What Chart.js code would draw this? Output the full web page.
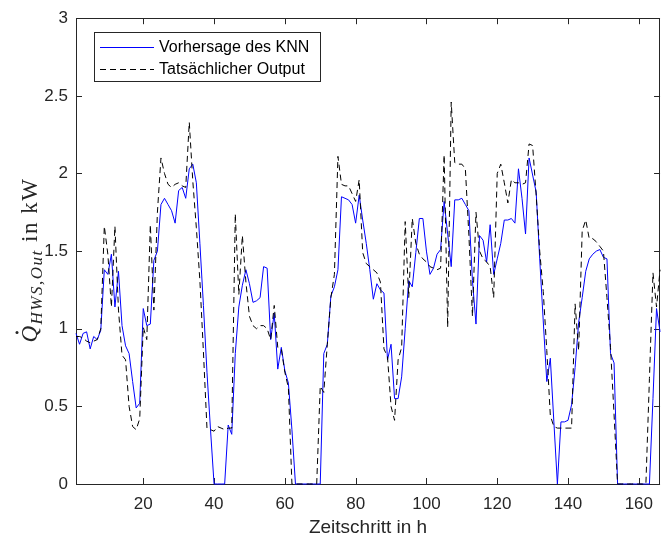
<!DOCTYPE html>
<html>
<head>
<meta charset="utf-8">
<script src="https://cdn.jsdelivr.net/npm/chart.js@4.4.1/dist/chart.umd.min.js"></script>
<style>
  html, body { margin: 0; padding: 0; background: #fff; }
  #chart { display: block; }
</style>
</head>
<body>
<canvas id="chart" width="663" height="541"></canvas>
<script>
// time steps 1..166 (hours)
const steps = Array.from({ length: 166 }, (_, i) => i + 1)

// predicted heat output of the neural net (kW)
const knnForecast = [
  0.97, 0.90, 0.97, 0.98, 0.87, 0.95, 0.93, 0.99, 1.38, 1.35,
  1.48, 1.14, 1.37, 1.02, 0.89, 0.84, 0.66, 0.49, 0.52, 1.13,
  1.02, 1.03, 1.44, 1.50, 1.80, 1.84, 1.80, 1.76, 1.68, 1.89,
  1.91, 1.84, 2.03, 2.06, 1.94, 1.55, 1.15, 0.72, 0.35, 0.00,
  0.00, 0.00, 0.00, 0.38, 0.32, 0.84, 1.14, 1.28, 1.38, 1.29,
  1.17, 1.18, 1.20, 1.40, 1.39, 0.93, 1.10, 0.74, 0.88, 0.73,
  0.65, 0.35, 0.00, 0.00, 0.00, 0.00, 0.00, 0.00, 0.00, 0.00,
  0.84, 0.90, 1.21, 1.27, 1.38, 1.85, 1.84, 1.83, 1.80, 1.68,
  1.86, 1.70, 1.55, 1.38, 1.19, 1.29, 1.25, 1.23, 0.80, 0.90,
  0.55, 0.55, 0.69, 1.00, 1.31, 1.27, 1.49, 1.71, 1.71, 1.50,
  1.35, 1.39, 1.48, 1.51, 1.82, 1.61, 1.40, 1.83, 1.83, 1.84,
  1.80, 1.76, 1.31, 1.03, 1.60, 1.57, 1.43, 1.67, 1.35, 1.45,
  1.55, 1.70, 1.70, 1.71, 1.68, 2.03, 1.84, 1.61, 2.10, 1.99,
  1.88, 1.45, 1.05, 0.66, 0.81, 0.40, 0.00, 0.40, 0.40, 0.41,
  0.51, 0.75, 1.04, 1.20, 1.37, 1.45, 1.48, 1.50, 1.51, 1.46,
  1.45, 0.84, 0.78, 0.00, 0.00, 0.00, 0.00, 0.00, 0.00, 0.00,
  0.00, 0.00, 0.00, 0.55, 1.13, 0.98
]

// measured heat output (kW)
const actualOutput = [
  0.95, 0.95, 0.94, 0.92, 0.91, 0.92, 0.93, 1.00, 1.66, 1.48,
  1.14, 1.66, 1.12, 0.83, 0.80, 0.50, 0.37, 0.35, 0.42, 1.01,
  0.93, 1.67, 1.12, 1.75, 2.10, 2.00, 1.93, 1.91, 1.93, 1.94,
  1.92, 1.91, 2.33, 1.95, 1.65, 1.31, 0.85, 0.36, 0.35, 0.34,
  0.37, 0.36, 0.35, 0.36, 0.36, 1.74, 1.22, 1.60, 1.30, 1.08,
  1.02, 1.00, 1.02, 1.02, 1.00, 0.93, 1.15, 0.88, 0.87, 0.72,
  0.62, 0.00, 0.00, 0.00, 0.00, 0.00, 0.00, 0.00, 0.00, 0.63,
  0.59, 0.90, 1.20, 1.35, 2.11, 1.93, 1.92, 1.92, 1.87, 1.82,
  1.96, 1.49, 1.42, 1.40, 1.38, 1.36, 1.30, 0.87, 0.82, 0.50,
  0.41, 0.80, 0.88, 1.69, 1.20, 1.71, 1.55, 1.48, 1.45, 1.43,
  1.40, 1.39, 1.38, 1.39, 2.12, 1.01, 2.46, 2.07, 2.06, 2.06,
  2.03, 1.60, 1.08, 1.75, 1.50, 1.45, 1.43, 1.40, 1.20, 2.00,
  2.06, 1.94, 1.81, 1.96, 1.94, 1.94, 1.93, 1.94, 2.19, 2.18,
  1.86, 1.50, 1.24, 0.86, 0.44, 0.37, 0.36, 0.36, 0.36, 0.36,
  0.36, 1.16, 0.86, 1.63, 1.70, 1.58, 1.58, 1.56, 1.53, 1.50,
  1.20, 0.88, 0.45, 0.00, 0.00, 0.00, 0.00, 0.00, 0.00, 0.00,
  0.00, 0.00, 0.68, 1.36, 1.14, 1.38
]

const seriesLabels = ['Vorhersage des KNN', 'Tatsächlicher Output']
const xTicks = [20, 40, 60, 80, 100, 120, 140, 160]
const yTicks = [0, 0.5, 1, 1.5, 2, 2.5, 3]

const axisColor = '#262626'
const sansFont = 'Arial, "Liberation Sans", sans-serif'

function toPoints(values) {
  return steps.map((s, i) => ({ x: s, y: values[i] }))
}

// box around the axes with MATLAB-style inward ticks
const axesBox = {
  id: 'axesBox',
  beforeDatasetsDraw(chart) {
    const ctx = chart.ctx
    const a = chart.chartArea
    const xs = chart.scales.x
    const ys = chart.scales.y
    ctx.save()
    ctx.strokeStyle = axisColor
    ctx.lineWidth = 1
    ctx.beginPath()
    xTicks.forEach(v => {
      const px = Math.round(xs.getPixelForValue(v)) + 0.5
      ctx.moveTo(px, a.bottom); ctx.lineTo(px, a.bottom - 6)
      ctx.moveTo(px, a.top); ctx.lineTo(px, a.top + 6)
    })
    yTicks.forEach(v => {
      const py = Math.round(ys.getPixelForValue(v)) + 0.5
      ctx.moveTo(a.left, py); ctx.lineTo(a.left + 6, py)
      ctx.moveTo(a.right, py); ctx.lineTo(a.right - 6, py)
    })
    ctx.stroke()
    ctx.strokeRect(Math.round(a.left) + 0.5, Math.round(a.top) + 0.5,
      Math.round(a.right - a.left) - 1, Math.round(a.bottom - a.top))
    ctx.restore()
  }
}

// legend box in the upper left corner of the axes
const boxLegend = {
  id: 'boxLegend',
  afterDraw(chart) {
    const ctx = chart.ctx
    ctx.save()
    ctx.fillStyle = '#fff'
    ctx.fillRect(94.5, 32.5, 226, 49)
    ctx.strokeStyle = axisColor
    ctx.lineWidth = 1
    ctx.strokeRect(94.5, 32.5, 226, 49)
    ctx.font = '16px ' + sansFont
    ctx.textBaseline = 'middle'
    chart.data.datasets.forEach((ds, i) => {
      const y = 47 + i * 22
      ctx.strokeStyle = ds.borderColor
      ctx.lineWidth = ds.borderWidth
      ctx.setLineDash(ds.borderDash || [])
      ctx.beginPath()
      ctx.moveTo(100, y + 0.5)
      ctx.lineTo(154, y + 0.5)
      ctx.stroke()
      ctx.setLineDash([])
      ctx.fillStyle = '#000'
      ctx.fillText(ds.label, 159, y + 1)
    })
    ctx.restore()
  }
}

// y axis label: Q-dot with subscript, serif
const yTitle = {
  id: 'yTitle',
  afterDraw(chart) {
    const ctx = chart.ctx
    const a = chart.chartArea
    const parts = [
      { text: 'Q', font: 'italic 23px "Liberation Serif", serif', dy: 0, sp: 1.5 },
      { text: 'HWS,Out', font: 'italic 17px "Liberation Serif", serif', dy: 5, sp: 1.5 },
      { text: ' in kW', font: '23px "Liberation Serif", serif', dy: 0, sp: 1.5 }
    ]
    ctx.save()
    let total = 0
    parts.forEach(p => {
      ctx.font = p.font
      ctx.letterSpacing = p.sp + 'px'
      p.w = ctx.measureText(p.text).width
      total += p.w
    })
    ctx.translate(37, (a.top + a.bottom) / 2 + 9)
    ctx.rotate(-Math.PI / 2)
    ctx.fillStyle = axisColor
    ctx.textBaseline = 'alphabetic'
    let x = -total / 2
    parts.forEach((p, i) => {
      ctx.font = p.font
      ctx.letterSpacing = p.sp + 'px'
      ctx.fillText(p.text, x, p.dy)
      if (i === 0) {
        ctx.beginPath()
        ctx.arc(x + p.w * 0.55, -20, 1.5, 0, Math.PI * 2)
        ctx.fill()
      }
      x += p.w
    })
    ctx.restore()
  }
}

const ctx = document.getElementById('chart')
new Chart(ctx, {
  type: 'line',
  data: {
    datasets: [{
      label: seriesLabels[0],
      data: toPoints(knnForecast),
      borderColor: '#0000ff',
      borderWidth: 1,
      pointRadius: 0,
      tension: 0,
      fill: false,
      clip: false,
      order: 2
    }, {
      label: seriesLabels[1],
      data: toPoints(actualOutput),
      borderColor: '#000000',
      borderWidth: 1,
      borderDash: [6, 4],
      pointRadius: 0,
      tension: 0,
      fill: false,
      clip: false,
      order: 1
    }]
  },
  options: {
    responsive: false,
    animation: false,
    devicePixelRatio: 1,
    layout: { padding: { top: 14, right: 0, bottom: 0, left: 0 } },
    plugins: {
      legend: { display: false },
      tooltip: { enabled: false }
    },
    scales: {
      x: {
        type: 'linear',
        min: 1,
        max: 166,
        grid: { display: false, drawTicks: false },
        border: { display: false },
        afterBuildTicks: s => { s.ticks = xTicks.map(v => ({ value: v })) },
        afterFit: s => { s.height = 57 },
        ticks: {
          color: axisColor,
          font: { family: sansFont, size: 17 },
          padding: 10,
          maxRotation: 0,
          autoSkip: false,
          callback: v => String(v)
        },
        title: {
          display: true,
          text: 'Zeitschritt in h',
          color: axisColor,
          font: { family: sansFont, size: 19 },
          padding: { top: 0, bottom: 2 }
        }
      },
      y: {
        min: 0,
        max: 3,
        grid: { display: false, drawTicks: false },
        border: { display: false },
        afterBuildTicks: s => { s.ticks = yTicks.map(v => ({ value: v })) },
        afterFit: s => { s.width = 76 },
        ticks: {
          color: axisColor,
          font: { family: sansFont, size: 17 },
          padding: 8,
          callback: v => String(v)
        }
      }
    }
  },
  plugins: [axesBox, boxLegend, yTitle]
})
</script>
</body>
</html>
